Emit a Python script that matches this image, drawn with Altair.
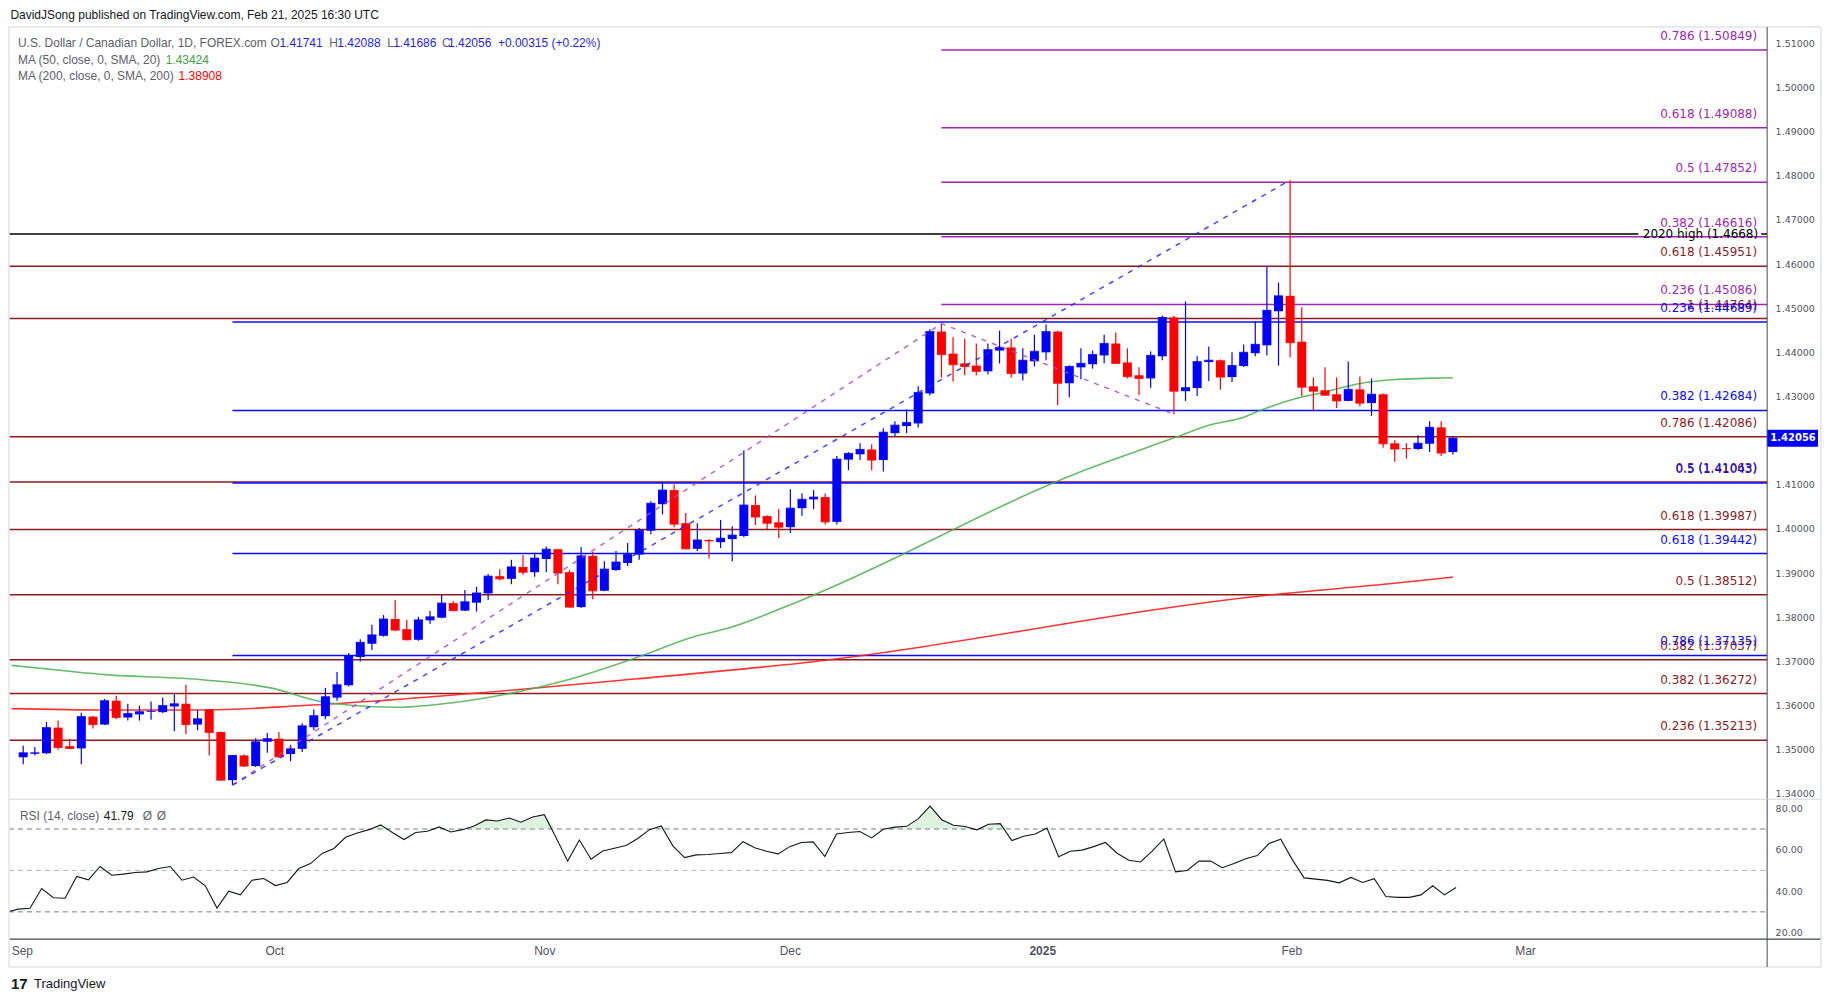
import altair as alt
import pandas as pd

# ---------------- text ----------------
header = "DavidJSong published on TradingView.com, Feb 21, 2025 16:30 UTC"
symbol = "U.S. Dollar / Canadian Dollar, 1D, FOREX.com"
ohlc_letters = ["O", "H", "L", "C"]
ohlc_head = ["1.41741", "1.42088", "1.41686", "1.42056"]
change_txt = "+0.00315 (+0.22%)"
ma50_name, ma50_last = "MA (50, close, 0, SMA, 20)", "1.43424"
ma200_name, ma200_last = "MA (200, close, 0, SMA, 200)", "1.38908"
rsi_name, rsi_last = "RSI (14, close)", "41.79"

# ---------------- daily candles (bar 0 .. 123) ----------------
opens = [1.3483, 1.3491, 1.3492, 1.3550, 1.3508, 1.3503, 1.3575, 1.3557, 1.3611, 1.3573,
         1.3580, 1.3586, 1.3585, 1.3598, 1.3604, 1.3557, 1.3591, 1.3540, 1.3431, 1.3487,
         1.3463, 1.3518, 1.3525, 1.3490, 1.3502, 1.3551, 1.3576, 1.3618, 1.3646, 1.3710,
         1.3740, 1.3758, 1.3796, 1.3773, 1.3749, 1.3793, 1.3799, 1.3832, 1.3815, 1.3833,
         1.3854, 1.3893, 1.3887, 1.3914, 1.3902, 1.3932, 1.3954, 1.3902, 1.3823, 1.3939,
         1.3860, 1.3907, 1.3923, 1.3942, 1.3996, 1.4056, 1.4088, 1.4013, 1.3955, 1.3975,
         1.3970, 1.3977, 1.3984, 1.4054, 1.4029, 1.4015, 1.4004, 1.4047, 1.4067, 1.4072,
         1.4016, 1.4157, 1.4169, 1.4180, 1.4156, 1.4217, 1.4233, 1.4239, 1.4307, 1.4447,
         1.4397, 1.4375, 1.4370, 1.4357, 1.4404, 1.4411, 1.4352, 1.4380, 1.4400, 1.4447,
         1.4330, 1.4366, 1.4373, 1.4393, 1.4420, 1.4377, 1.4348, 1.4341, 1.4391, 1.4479,
         1.4312, 1.4319, 1.4378, 1.4382, 1.4344, 1.4369, 1.4398, 1.4416, 1.4493, 1.4528,
         1.4424, 1.4323, 1.4314, 1.4305, 1.4290, 1.4316, 1.4285, 1.4305, 1.4194, 1.4183,
         1.4181, 1.4193, 1.4230, 1.41741]
highs = [1.3509, 1.3506, 1.3563, 1.3566, 1.3525, 1.3584, 1.3577, 1.3615, 1.3622, 1.3604,
         1.3600, 1.3609, 1.3618, 1.3625, 1.3647, 1.3591, 1.3591, 1.3541, 1.3488, 1.3490,
         1.3526, 1.3538, 1.3540, 1.3511, 1.3560, 1.3591, 1.3640, 1.3676, 1.3719, 1.3750,
         1.3783, 1.3805, 1.3839, 1.3794, 1.3801, 1.3814, 1.3851, 1.3837, 1.3862, 1.3869,
         1.3898, 1.3909, 1.3930, 1.3941, 1.3946, 1.3960, 1.3955, 1.3907, 1.3959, 1.3948,
         1.3927, 1.3950, 1.3968, 1.4002, 1.4063, 1.4106, 1.4101, 1.4036, 1.4013, 1.3977,
         1.4020, 1.4006, 1.4178, 1.4076, 1.4031, 1.4045, 1.4090, 1.4080, 1.4088, 1.4080,
         1.4165, 1.4174, 1.4194, 1.4192, 1.4228, 1.4244, 1.4271, 1.4323, 1.4452, 1.4465,
         1.4434, 1.4431, 1.4420, 1.4420, 1.4449, 1.4431, 1.4409, 1.4440, 1.4463, 1.4449,
         1.4370, 1.4409, 1.4404, 1.4440, 1.4445, 1.4409, 1.4366, 1.4402, 1.4483, 1.4483,
         1.4515, 1.4391, 1.4413, 1.4384, 1.4400, 1.4418, 1.4470, 1.4594, 1.4558, 1.4790,
         1.4502, 1.4343, 1.4366, 1.4343, 1.4379, 1.4345, 1.4341, 1.4307, 1.4201, 1.4194,
         1.4212, 1.4244, 1.4244, 1.42088]
lows = [1.3467, 1.3487, 1.3490, 1.3500, 1.3502, 1.3467, 1.3548, 1.3556, 1.3569, 1.3566,
        1.3566, 1.3568, 1.3583, 1.3542, 1.3535, 1.3544, 1.3487, 1.3430, 1.3420, 1.3461,
        1.3461, 1.3493, 1.3481, 1.3474, 1.3495, 1.3544, 1.3569, 1.3611, 1.3643, 1.3700,
        1.3726, 1.3756, 1.3769, 1.3748, 1.3747, 1.3785, 1.3798, 1.3814, 1.3814, 1.3813,
        1.3839, 1.3883, 1.3875, 1.3896, 1.3892, 1.3902, 1.3875, 1.3822, 1.3821, 1.3841,
        1.3859, 1.3905, 1.3916, 1.3930, 1.3988, 1.4033, 1.4004, 1.3954, 1.3950, 1.3933,
        1.3957, 1.3927, 1.3981, 1.4009, 1.3997, 1.3979, 1.3991, 1.4030, 1.4045, 1.4010,
        1.4010, 1.4133, 1.4156, 1.4133, 1.4130, 1.4210, 1.4217, 1.4230, 1.4302, 1.4343,
        1.4334, 1.4348, 1.4348, 1.4350, 1.4375, 1.4343, 1.4336, 1.4368, 1.4382, 1.4280,
        1.4298, 1.4339, 1.4363, 1.4375, 1.4374, 1.4341, 1.4303, 1.4320, 1.4382, 1.4260,
        1.4290, 1.4301, 1.4335, 1.4315, 1.4333, 1.4367, 1.4391, 1.4393, 1.4370, 1.4389,
        1.4301, 1.4269, 1.4301, 1.4274, 1.4289, 1.4278, 1.4256, 1.4184, 1.4152, 1.4159,
        1.4179, 1.4174, 1.4165, 1.41686]
closes = [1.3493, 1.3493, 1.3550, 1.3505, 1.3503, 1.3575, 1.3557, 1.3611, 1.3573, 1.3582,
          1.3586, 1.3587, 1.3600, 1.3604, 1.3557, 1.3570, 1.3539, 1.3431, 1.3487, 1.3463,
          1.3518, 1.3525, 1.3484, 1.3502, 1.3554, 1.3577, 1.3620, 1.3647, 1.3713, 1.3743,
          1.3760, 1.3796, 1.3771, 1.3749, 1.3794, 1.3801, 1.3832, 1.3815, 1.3835, 1.3855,
          1.3893, 1.3887, 1.3914, 1.3902, 1.3934, 1.3954, 1.3900, 1.3823, 1.3939, 1.3860,
          1.3909, 1.3925, 1.3942, 1.3997, 1.4058, 1.4088, 1.4011, 1.3955, 1.3975, 1.3973,
          1.3979, 1.3986, 1.4054, 1.4027, 1.4013, 1.4004, 1.4047, 1.4067, 1.4072, 1.4016,
          1.4158, 1.4171, 1.4180, 1.4156, 1.4219, 1.4235, 1.4241, 1.4309, 1.4447, 1.4395,
          1.4372, 1.4368, 1.4357, 1.4406, 1.4411, 1.4352, 1.4382, 1.4402, 1.4447, 1.4330,
          1.4368, 1.4375, 1.4395, 1.4420, 1.4375, 1.4345, 1.4341, 1.4393, 1.4479, 1.4312,
          1.4320, 1.4379, 1.4382, 1.4344, 1.4370, 1.4400, 1.4418, 1.4495, 1.4528, 1.4422,
          1.4321, 1.4312, 1.4303, 1.4290, 1.4316, 1.4285, 1.4305, 1.4193, 1.4181, 1.4182,
          1.4194, 1.4230, 1.4172, 1.42056]

# RSI(14) for bars -1 .. 123
rsi_vals = [29.9,
            31.3, 31.7, 41.3, 36.8, 36.6, 47.1, 45.5, 51.9, 47.7, 48.2,
            49.0, 49.3, 50.9, 51.9, 45.3, 46.8, 42.6, 31.8, 40.0, 38.2,
            45.3, 46.1, 42.7, 44.2, 50.9, 53.3, 58.2, 60.6, 66.0, 68.1,
            69.7, 72.0, 68.3, 64.9, 68.3, 68.9, 71.0, 68.6, 69.7, 71.5,
            74.4, 73.9, 75.3, 73.3, 75.8, 76.9, 65.9, 54.5, 64.7, 55.4,
            59.4, 60.7, 62.0, 65.4, 69.7, 71.5, 61.9, 56.2, 57.5, 57.7,
            58.2, 58.6, 63.9, 61.0, 59.3, 58.0, 61.5, 63.5, 63.8, 56.7,
            67.6, 68.3, 68.8, 65.7, 69.9, 70.9, 71.3, 75.0, 81.1, 74.5,
            71.8, 71.2, 69.6, 72.3, 72.6, 64.4, 66.5, 67.6, 70.5, 56.6,
            59.3, 59.8, 61.5, 63.5, 58.3, 54.9, 54.1, 59.3, 65.2, 49.3,
            50.0, 54.5, 54.5, 51.3, 53.3, 55.6, 57.2, 63.0, 65.1, 55.1,
            46.4, 45.8, 45.2, 44.0, 46.6, 44.2, 46.0, 37.4, 37.0, 37.0,
            38.2, 42.6, 38.2, 41.79]

# moving averages, read at points along the lines (bar position, value)
ma50_bars = [-1, 4.2, 7.1, 15.6, 21.3, 25.6, 28.4, 32.0, 38.5, 46.8, 52.9, 57.7, 60.6,
             66.8, 91.3, 99.2, 102, 105, 106.3, 109.2, 112, 114.9, 117.8, 120.6, 123]
ma50_vals = [1.3691, 1.3677, 1.3670, 1.3658, 1.3640, 1.3609, 1.3600, 1.3596, 1.3612, 1.3658,
             1.3710, 1.3756, 1.3775, 1.3837, 1.4133, 1.4208, 1.4235, 1.4253, 1.4267, 1.4293,
             1.4310, 1.4329, 1.4338, 1.4341, 1.43424]
ma200_bars = [-1, 7.1, 15.6, 24.1, 32.7, 52.6, 66.8, 107.4, 118, 123]
ma200_vals = [1.3593, 1.3590, 1.3590, 1.3600, 1.3615, 1.3660, 1.3696, 1.3851, 1.3877, 1.38908]

# fibonacci levels
red_levels = [1.45951, 1.44764, 1.42086, 1.41063, 1.39987, 1.38512, 1.37037, 1.36272, 1.35213]
red_ratios = ["0.618", "1", "0.786", "0.5", "0.618", "0.5", "0.382", "0.382", "0.236"]
blue_levels = [1.44689, 1.42684, 1.41043, 1.39442, 1.37135]
blue_ratios = ["0.236", "0.382", "0.5", "0.618", "0.786"]
purple_levels = [1.45086, 1.46616, 1.47852, 1.49088, 1.50849]
purple_ratios = ["0.236", "0.382", "0.5", "0.618", "0.786"]
high2020 = 1.4668
high2020_label = "2020 high (1.4668)"

# drawing pivots (bar index)
pivot_low, pivot_high1, pivot_low2, pivot_high2 = 18, 79, 99, 109

# axes
month_ticks = [0.3, 21.9, 45.0, 66.0, 87.6, 108.9, 128.9]
month_labels = ["Sep", "Oct", "Nov", "Dec", "2025", "Feb", "Mar"]
price_ticks = [1.34, 1.35, 1.36, 1.37, 1.38, 1.39, 1.40, 1.41, 1.42,
               1.43, 1.44, 1.45, 1.46, 1.47, 1.48, 1.49, 1.50, 1.51]
rsi_ticks = [20, 40, 60, 80]
rsi_dark_levels = [70, 30]
rsi_mid_level = [50]

# ---------------- style ----------------
UI = "Liberation Sans"
LBL = "DejaVu Sans"
BLUE = "#0000ff"
RED = "#ff0000"
DARKRED = "#8a1c1c"
PURPLE = "#9c27b0"
FIBBLUE = "#0a0aff"
AX = "#50535e"
GRAYTXT = "#5d606b"
FRAME = "#e0e3eb"
SEP = "#434651"

W = 1762
H_MAIN = 792
H_RSI = 140
xsc = alt.Scale(domain=[-0.794, 149.61], nice=False, zero=False)
ysc = alt.Scale(domain=[1.33876, 1.51774], nice=False, zero=False)
rsc = alt.Scale(domain=[16.867, 84.337], nice=False, zero=False)

yax = alt.Axis(orient="right", values=price_ticks, format=".5f", labelFont=LBL,
               labelFontSize=9.5, labelColor=AX, labelPadding=8, ticks=False,
               domain=False, grid=False, title=None, labelFlush=False, labelOverlap=False)
rax = alt.Axis(orient="right", values=rsi_ticks, format=".2f", labelFont=LBL,
               labelFontSize=9.5, labelColor=AX, labelPadding=8, ticks=False,
               domain=False, grid=False, title=None, labelFlush=False, labelOverlap=False)
label_expr = "".join(f"abs(datum.value-{t})<0.5?'{l}':" for t, l in zip(month_ticks, month_labels)) + "''"
xax = alt.Axis(values=month_ticks, labelExpr=label_expr, ticks=False, domain=False, grid=False,
               title=None, labelFont=UI, labelFontSize=12, labelColor=AX, labelPadding=7,
               labelFlush=False, labelOverlap=False,
               labelFontWeight={"condition": {"test": "abs(datum.value-87.6)<0.5", "value": "bold"},
                                "value": "normal"})

ONE = pd.DataFrame({"k": [0]})


def txt(s, px, py, color, size=12, font=UI, weight="normal", align="left"):
    return alt.Chart(ONE).mark_text(text=s, color=color, fontSize=size, font=font,
                                    fontWeight=weight, align=align, baseline="middle").encode(
        x=alt.value(px), y=alt.value(py))


def hrule(x1, x2, y, color, w=1.0):
    return alt.Chart(ONE).mark_rule(color=color, strokeWidth=w).encode(
        x=alt.value(x1), x2=alt.value(x2), y=alt.value(y))


def vrule(x, y1, y2, color, w=1.0):
    return alt.Chart(ONE).mark_rule(color=color, strokeWidth=w).encode(
        x=alt.value(x), y=alt.value(y1), y2=alt.value(y2))


# ---------------- tables ----------------
n = len(closes)
candles = pd.DataFrame({"bar": list(range(n)), "open": opens, "high": highs,
                        "low": lows, "close": closes})
candles["dir"] = ["up" if c >= o else "down" for o, c in zip(opens, closes)]
dir_color = alt.Color("dir:N", scale=alt.Scale(domain=["up", "down"], range=[BLUE, RED]), legend=None)

red_df = pd.DataFrame({"level": red_levels,
                       "label": [f"{r} ({v:.5f})" for r, v in zip(red_ratios, red_levels)]})
blue_df = pd.DataFrame({"level": blue_levels, "start": [pivot_low] * len(blue_levels),
                        "label": [f"{r} ({v:.5f})" for r, v in zip(blue_ratios, blue_levels)]})
purple_df = pd.DataFrame({"level": purple_levels, "start": [pivot_high1] * len(purple_levels),
                          "label": [f"{r} ({v:.5f})" for r, v in zip(purple_ratios, purple_levels)]})
hi_df = pd.DataFrame({"level": [high2020], "label": [high2020_label]})

ma50_df = pd.DataFrame({"bar": ma50_bars, "v": ma50_vals})
ma200_df = pd.DataFrame({"bar": ma200_bars, "v": ma200_vals})

purple_path = pd.DataFrame({"bar": [pivot_low, pivot_high1, pivot_low2],
                            "p": [lows[pivot_low], highs[pivot_high1], lows[pivot_low2]],
                            "o": [0, 1, 2]})
blue_path = pd.DataFrame({"bar": [pivot_low, pivot_high2],
                          "p": [lows[pivot_low], highs[pivot_high2]], "o": [0, 1]})

last_df = pd.DataFrame({"p": [closes[-1]], "t": [f"{closes[-1]:.5f}"]})

X = lambda f: alt.X(f, scale=xsc, axis=None)
Y = lambda f: alt.Y(f, scale=ysc, axis=yax)

# ---------------- main pane ----------------
layers = []
layers.append(alt.Chart(red_df).mark_rule(color=DARKRED, strokeWidth=1.5).encode(
    x=alt.value(0), x2=alt.value(W), y=Y("level:Q")))
layers.append(alt.Chart(blue_df).mark_rule(color=FIBBLUE, strokeWidth=1.5).encode(
    x=X("start:Q"), x2=alt.value(W), y=Y("level:Q")))
layers.append(alt.Chart(purple_df).mark_rule(color=PURPLE, strokeWidth=1.5).encode(
    x=X("start:Q"), x2=alt.value(W), y=Y("level:Q")))
layers.append(alt.Chart(hi_df).mark_rule(color="#000000", strokeWidth=1.5).encode(
    x=alt.value(0), x2=alt.value(1633), y=Y("level:Q")))
layers.append(alt.Chart(hi_df).mark_rule(color="#000000", strokeWidth=1.5).encode(
    x=alt.value(1756), x2=alt.value(W), y=Y("level:Q")))

layers.append(alt.Chart(ma200_df).mark_line(color="#ff1f1f", strokeWidth=1.6, opacity=0.9,
                                            interpolate="monotone", clip=True).encode(
    x=X("bar:Q"), y=Y("v:Q")))
layers.append(alt.Chart(ma50_df).mark_line(color="#4caf50", strokeWidth=1.6, opacity=0.85,
                                           interpolate="monotone", clip=True).encode(
    x=X("bar:Q"), y=Y("v:Q")))

layers.append(alt.Chart(candles).mark_rule(strokeWidth=1.2).encode(
    x=X("bar:Q"), y=Y("low:Q"), y2="high:Q", color=dir_color))
layers.append(alt.Chart(candles).mark_bar(size=9).encode(
    x=X("bar:Q"), y=Y("open:Q"), y2="close:Q", color=dir_color))
layers.append(alt.Chart(candles).mark_tick(orient="horizontal", size=9, thickness=1.2).encode(
    x=X("bar:Q"), y=Y("close:Q"), color=dir_color))

layers.append(alt.Chart(purple_path).mark_line(color="#a64dc4", strokeWidth=1.5, opacity=0.85,
                                               strokeDash=[5, 6]).encode(
    x=X("bar:Q"), y=Y("p:Q"), order="o:Q"))
layers.append(alt.Chart(blue_path).mark_line(color="#2424ff", strokeWidth=1.5, opacity=0.85,
                                             strokeDash=[5, 6]).encode(
    x=X("bar:Q"), y=Y("p:Q"), order="o:Q"))

for df, col in [(red_df, DARKRED), (blue_df, FIBBLUE), (purple_df, PURPLE)]:
    layers.append(alt.Chart(df).mark_text(align="right", baseline="middle", dy=-14, font=LBL,
                                          fontSize=12, color=col).encode(
        x=alt.value(1752), y=Y("level:Q"), text="label:N"))
layers.append(alt.Chart(hi_df).mark_text(align="right", baseline="middle", font=LBL,
                                         fontSize=12, color="#000000").encode(
    x=alt.value(1753), y=Y("level:Q"), text="label:N"))

# last price tag on the axis
layers.append(alt.Chart(last_df).mark_rule(color=BLUE, strokeWidth=17).encode(
    x=alt.value(W), x2=alt.value(W + 51), y=Y("p:Q")))
layers.append(alt.Chart(last_df).mark_text(color="white", font=LBL, fontSize=10, fontWeight="bold",
                                           align="center", baseline="middle").encode(
    x=alt.value(W + 26), y=Y("p:Q"), text="t:N"))

# frame
layers += [hrule(0, 1816, 18, FRAME, 1.5), vrule(0, 18, H_MAIN, FRAME, 1.5),
           vrule(1816, 18, H_MAIN, FRAME, 1.5), vrule(W, 18, H_MAIN, SEP, 1)]

# header and legend
layers.append(txt(header, 1.4, 6, "#131722", size=12))
layers.append(txt(symbol, 9, 34, GRAYTXT))
for letter, val, lx, vx in zip(ohlc_letters, ohlc_head, [262, 321, 379, 434], [271, 329, 385, 440]):
    layers.append(txt(letter, lx, 34, GRAYTXT))
    layers.append(txt(val, vx, 34, "#1f1fe6"))
layers.append(txt(change_txt, 490, 34, "#1f1fe6"))
layers.append(txt(ma50_name, 9, 51, GRAYTXT))
layers.append(txt(ma50_last, 157, 51, "#43a047"))
layers.append(txt(ma200_name, 9, 67, GRAYTXT))
layers.append(txt(ma200_last, 170, 67, "#ff0000"))

main = alt.layer(*layers).properties(width=W, height=H_MAIN)

# ---------------- RSI pane ----------------
rsi_df = pd.DataFrame({"bar": list(range(-1, n)), "rsi": rsi_vals})
XR = lambda f: alt.X(f, scale=xsc, axis=xax)
YR = lambda f: alt.Y(f, scale=rsc, axis=rax)

rl = []
rl.append(alt.Chart(pd.DataFrame({"lv": rsi_dark_levels})).mark_rule(
    color="#787b86", strokeWidth=1, strokeDash=[5, 4]).encode(
    x=alt.value(0), x2=alt.value(W), y=YR("lv:Q")))
rl.append(alt.Chart(pd.DataFrame({"lv": rsi_mid_level})).mark_rule(
    color="#b2b5be", strokeWidth=1, strokeDash=[5, 4]).encode(
    x=alt.value(0), x2=alt.value(W), y=YR("lv:Q")))
rl.append(alt.Chart(rsi_df).transform_calculate(top="max(datum.rsi, 70)", base="70").mark_area(
    color="#4caf50", opacity=0.18, clip=True).encode(x=XR("bar:Q"), y=YR("top:Q"), y2="base:Q"))
rl.append(alt.Chart(rsi_df).mark_line(color="#131722", strokeWidth=1.1, clip=True).encode(
    x=XR("bar:Q"), y=YR("rsi:Q")))
rl += [hrule(0, 1816, 0, FRAME, 1.5), hrule(0, 1816, H_RSI, SEP, 1.2),
       hrule(0, 1816, 168, FRAME, 1.5), vrule(0, 0, 168, FRAME, 1.5),
       vrule(1816, 0, 168, FRAME, 1.5), vrule(W, 0, 168, SEP, 1)]
rl.append(txt(rsi_name, 11, 17, GRAYTXT))
rl.append(txt(rsi_last, 95, 17, "#131722"))
rl.append(txt("Ø", 134, 17, GRAYTXT))
rl.append(txt("Ø", 148, 17, GRAYTXT))
rl.append(txt("17", 2, 185, "#131722", size=15, weight="bold"))
rl.append(txt("TradingView", 25, 185, "#131722", size=13))

rsi = alt.layer(*rl).properties(width=W, height=H_RSI)

chart = alt.vconcat(main, rsi, spacing=0, bounds="flush").properties(
    padding=0, background="white").configure_view(stroke=None)

chart.save("out.html", embed_options={"renderer": "svg", "actions": False})
